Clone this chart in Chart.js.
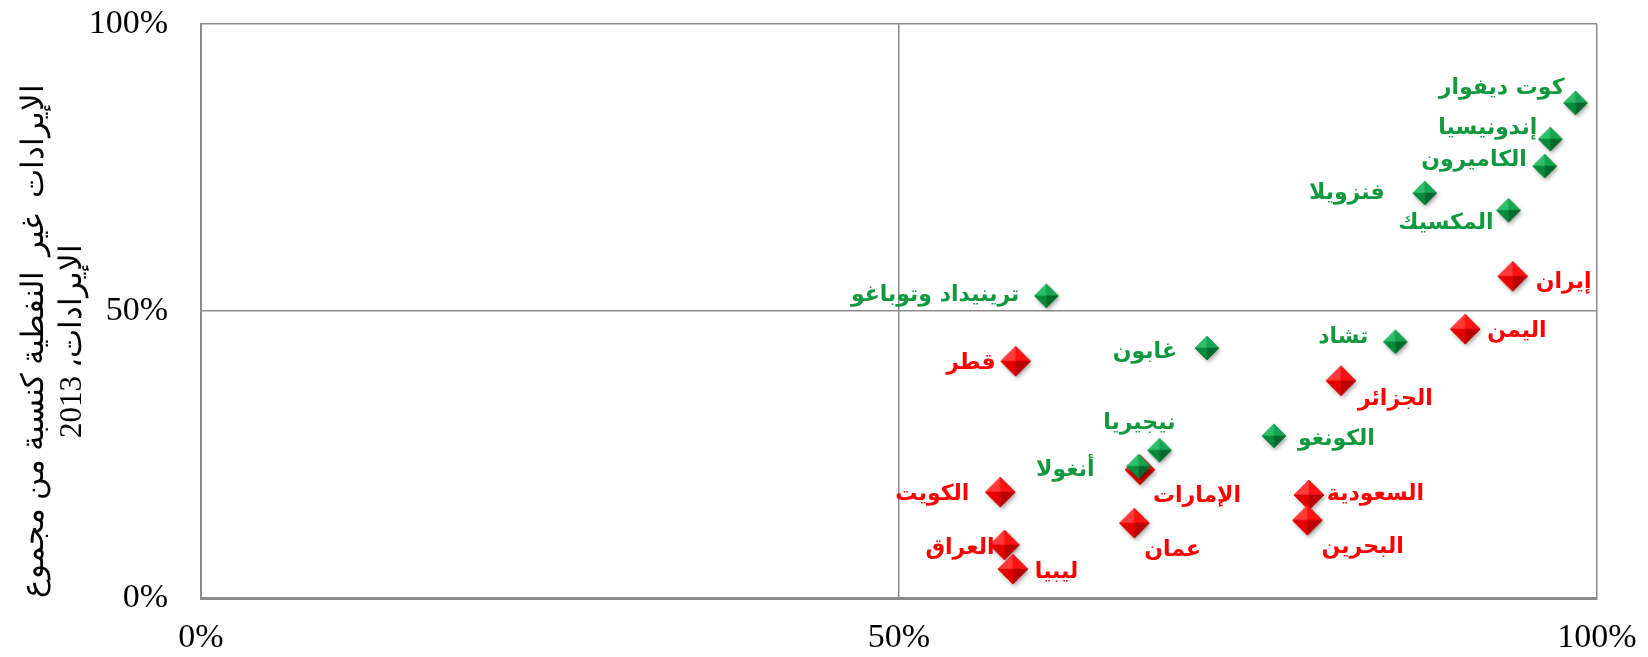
<!DOCTYPE html>
<html>
<head>
<meta charset="utf-8">
<script src="https://cdn.jsdelivr.net/npm/chart.js@4"></script>
<style>
  body { margin: 0; background: #fff; }
  #wrap { width: 1648px; height: 657px; position: relative; }
</style>
</head>
<body>
<div id="wrap"><canvas id="scatterChart"></canvas></div>
<script>
// countries with mostly non-oil revenue (green)
let greenNames = ["كوت ديفوار", "إندونيسيا", "الكاميرون", "فنزويلا", "المكسيك", "ترينيداد وتوباغو",
    "غابون", "تشاد", "الكونغو", "نيجيريا", "أنغولا"];
let greenX = [98.6, 96.8, 96.4, 87.8, 93.8, 60.7, 72.2, 85.7, 77.0, 68.8, 67.3];
let greenY = [85.9, 79.6, 74.9, 70.2, 67.2, 52.3, 43.2, 44.3, 27.9, 25.4, 22.6];

// MENA countries (red)
let redNames = ["إيران", "اليمن", "الجزائر", "قطر", "الإمارات", "الكويت", "السعودية", "البحرين", "عمان", "العراق", "ليبيا"];
let redX = [94.1, 90.7, 81.8, 58.5, 67.4, 57.4, 79.5, 79.4, 67.0, 57.7, 58.3];
let redY = [55.7, 46.5, 37.5, 40.9, 22.0, 18.1, 17.6, 13.2, 12.7, 8.9, 4.7];

let axisTicks = [0, 50, 100];
let yTitle = ["الإيرادات  غير  النفطية كنسبة من مجموع", "الإيرادات، 2013"];

// label placement next to each marker: [dx, dy, align]
let greenLabelPos = [
    [-13, -17, "right"], [-15, -13, "right"], [-20, -8, "right"], [-42, -2, "right"], [-17, 11, "right"],
    [-29, -3, "right"], [-32, 2, "right"], [-29, -6, "right"], [22, 1, "left"], [14, -29, "right"], [-46, 2, "right"],
];
let redLabelPos = [
    [21, 4, "left"], [20, 0, "left"], [15, 17, "left"], [-22, 0, "right"], [11, 25, "left"], [-33, 0, "right"],
    [16, -3, "left"], [12, 25, "left"], [8, 25, "left"], [-12, 1, "right"], [20, 1, "left"],
];

let greenColor = "#12993f";
let redColor = "#ff0000";
let gridColor = "#8c8c8c";

//beveled diamond marker
function makeDiamond(r, faces) {
    let c = document.createElement("canvas");
    let s = Math.ceil(r * 2 + 10);
    c.width = s;
    c.height = s;
    let g = c.getContext("2d");
    let cx = s / 2 - 2,
        cy = s / 2 - 2;
    // soft shadow
    g.save();
    g.shadowColor = "rgba(0,0,0,0.35)";
    g.shadowBlur = 4;
    g.shadowOffsetX = 1.5;
    g.shadowOffsetY = 2.5;
    g.beginPath();
    g.moveTo(cx, cy - r);
    g.lineTo(cx + r, cy);
    g.lineTo(cx, cy + r);
    g.lineTo(cx - r, cy);
    g.closePath();
    g.fillStyle = faces[2];
    g.fill();
    g.restore();
    let pts = [[cx - r, cy], [cx, cy - r], [cx + r, cy], [cx, cy + r]];
    for (let i = 0; i < 4; i++) {
        let a = pts[i],
            b = pts[(i + 1) % 4];
        g.beginPath();
        g.moveTo(cx, cy);
        g.lineTo(a[0], a[1]);
        g.lineTo(b[0], b[1]);
        g.closePath();
        g.fillStyle = faces[i];
        g.fill();
        g.strokeStyle = faces[i];
        g.lineWidth = 0.6;
        g.stroke();
    }
    return c;
}

let greenMarker = makeDiamond(12, ["#2fbf68", "#16a452", "#006a2c", "#078a3c"]);
let redMarker = makeDiamond(15, ["#ff3a3a", "#ff1212", "#b80000", "#e40000"]);

function toPoints(xs, ys) {
    let out = [];
    for (let i = 0; i < xs.length; i++) {
        out.push({ x: xs[i], y: ys[i] });
    }
    return out;
}

let pointLabels = {
    id: "pointLabels",
    afterDatasetsDraw(chart) {
        let ctx = chart.ctx;
        let sets = [
            [0, greenNames, greenLabelPos, greenColor],
            [1, redNames, redLabelPos, redColor],
        ];
        ctx.save();
        ctx.font = 'bold 22px "DejaVu Sans", Arial, sans-serif';
        ctx.textBaseline = "middle";
        sets.forEach(function(s) {
            let meta = chart.getDatasetMeta(s[0]);
            meta.data.forEach(function(el, i) {
                let p = s[2][i];
                ctx.fillStyle = s[3];
                ctx.textAlign = p[2];
                ctx.fillText(s[1][i], el.x + p[0], el.y + p[1]);
            });
        });
        ctx.restore();

        // y axis title
        ctx.save();
        ctx.translate(35, 341);
        ctx.rotate(-Math.PI / 2);
        ctx.font = '31px "Liberation Serif", "Times New Roman", serif';
        ctx.fillStyle = "#000";
        ctx.textAlign = "center";
        ctx.textBaseline = "middle";
        ctx.fillText(yTitle[0], 0, 0);
        ctx.fillText(yTitle[1], 0, 38);
        ctx.restore();
    },
};

let tickFont = { family: '"Liberation Serif", "Times New Roman", serif', size: 34 };

let scatterCanvas = document.getElementById("scatterChart").getContext("2d");

new Chart(scatterCanvas, {
    type: "scatter",
    data: {
        datasets: [{
            label: "green",
            data: toPoints(greenX, greenY),
            pointStyle: greenMarker,
        }, {
            label: "red",
            data: toPoints(redX, redY),
            pointStyle: redMarker,
        }, ],
    },
    options: {
        responsive: true,
        maintainAspectRatio: false,
        animation: false,
        layout: {
            padding: { top: 24, right: 51, left: 0, bottom: 0 },
        },
        plugins: {
            legend: { display: false },
            tooltip: { enabled: false },
        },
        scales: {
            x: {
                min: 0,
                max: 100,
                afterBuildTicks: function(scale) {
                    scale.ticks = axisTicks.map(function(v) { return { value: v }; });
                },
                afterFit: function(scale) {
                    scale.height = 59;
                    scale.paddingLeft = 0;
                    scale.paddingRight = 0;
                },
                ticks: {
                    color: "#000",
                    font: tickFont,
                    padding: 20,
                    maxRotation: 0,
                    callback: function(v) { return v + "%"; },
                },
                grid: { color: gridColor, lineWidth: 1.5, drawTicks: false },
                border: { color: gridColor, width: 3 },
            },
            y: {
                min: 0,
                max: 100,
                afterBuildTicks: function(scale) {
                    scale.ticks = axisTicks.map(function(v) { return { value: v }; });
                },
                afterFit: function(scale) {
                    scale.width = 201;
                    scale.paddingTop = 0;
                    scale.paddingBottom = 0;
                },
                ticks: {
                    color: "#000",
                    font: tickFont,
                    padding: 33,
                    callback: function(v) { return v + "%"; },
                },
                grid: { color: gridColor, lineWidth: 1.5, drawTicks: false },
                border: { color: gridColor, width: 2 },
            },
        },
    },
    plugins: [pointLabels],
});
</script>
</body>
</html>
